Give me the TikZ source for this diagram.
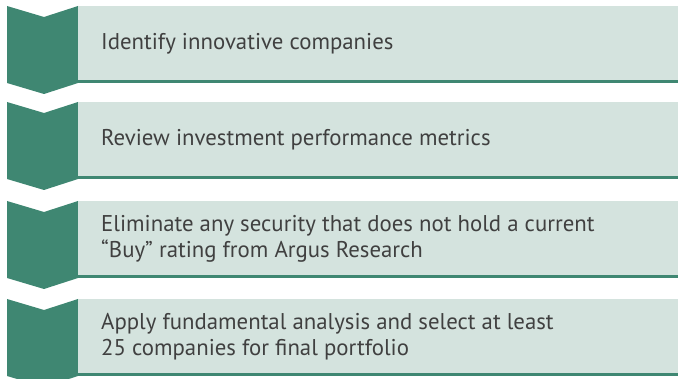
\documentclass[tikz,border=0pt]{standalone}
\usepackage{fontspec}
\setmainfont{PT Sans}
\definecolor{dgreen}{HTML}{3F8772}
\definecolor{lgreen}{HTML}{D4E3DE}
\definecolor{txt}{HTML}{404040}
\begin{document}
\begin{tikzpicture}[x=1pt,y=-1pt,
  chev/.style={fill=dgreen,draw=none},
  panel/.style={fill=lgreen,draw=none},
  baseline/.style={fill=dgreen,draw=none},
  steptext/.style={anchor=west,text=txt,font=\fontsize{22.8}{26}\selectfont,align=left,inner sep=0pt}]
\useasboundingbox (0,0) rectangle (678,379);
\foreach \T/\i in {6/1,102/2,201/3,299/4}{
  \fill[chev] (7,\T) -- (44,\T+11) -- (78,\T) -- (78,\T+77) -- (44,\T+88) -- (7,\T+77) -- cycle;
  \fill[panel] (78,\T) rectangle (678,\T+74);
  \fill[baseline] (78,\T+74) rectangle (678,\T+77);
  \coordinate (c\i) at (101,\T+38);
}
\node[steptext] (t1) at (c1) {Identify innovative companies};
\node[steptext] (t2) at (c2) {Review investment performance metrics};
\node[steptext] (t3) at (c3) {Eliminate any security that does not hold a current\\``Buy'' rating from Argus Research};
\node[steptext] (t4) at (c4) {Apply fundamental analysis and select at least\\25 companies for final portfolio};
\end{tikzpicture}
\end{document}
